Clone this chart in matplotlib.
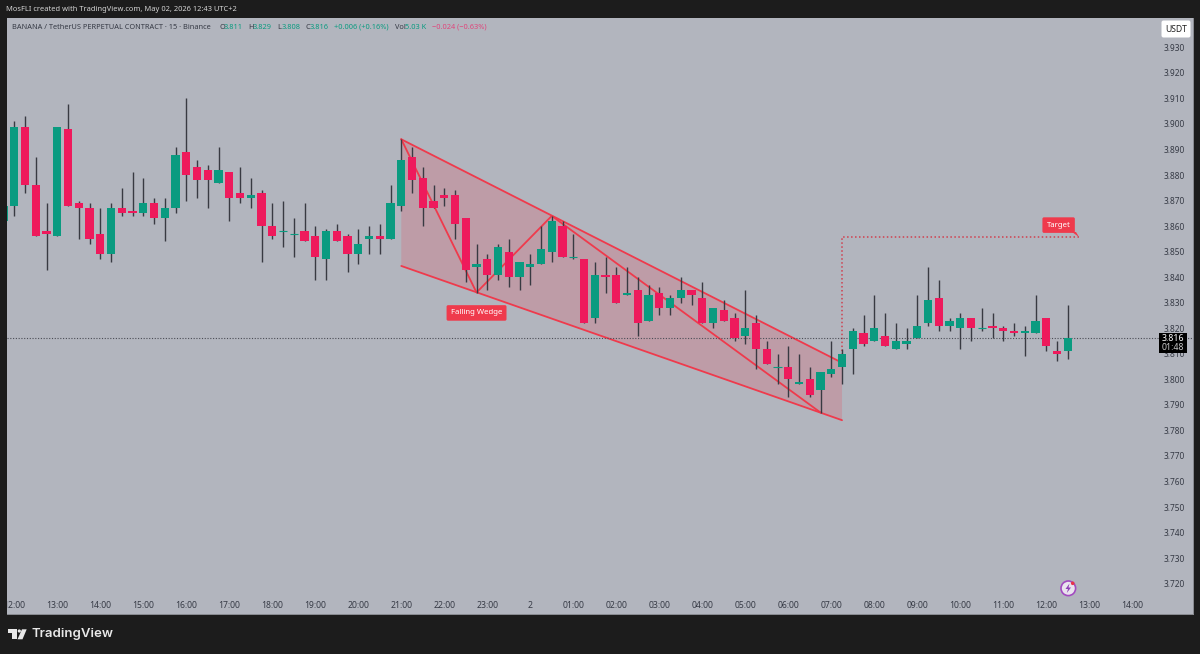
#!/usr/bin/env python
import numpy as np
from matplotlib import pyplot as plt
from matplotlib.patches import Circle, Polygon, Rectangle, FancyBboxPatch
from matplotlib.transforms import Affine2D

plt.rcParams['font.family'] = ['Noto Sans', 'DejaVu Sans']

### "data"
# 15 minute bars, first one is the bar just before 12:00
opens = [3.862, 3.868, 3.899, 3.876, 3.858, 3.856, 3.898, 3.869, 3.867, 3.857, 3.849,
         3.867, 3.866, 3.865, 3.869, 3.863, 3.867, 3.889, 3.883, 3.882, 3.877,
         3.881, 3.873, 3.871, 3.873, 3.860, 3.858, 3.857, 3.858, 3.856, 3.847,
         3.858, 3.856, 3.849, 3.855, 3.856, 3.855, 3.868, 3.887, 3.879, 3.870,
         3.872, 3.872, 3.863, 3.844, 3.847, 3.841, 3.850, 3.840, 3.844, 3.845,
         3.850, 3.860, 3.848, 3.847, 3.824, 3.841, 3.841, 3.833, 3.835, 3.823,
         3.834, 3.828, 3.832, 3.835, 3.832, 3.822, 3.827, 3.824, 3.817, 3.822,
         3.812, 3.805, 3.805, 3.798, 3.800, 3.796, 3.802, 3.805, 3.812, 3.818,
         3.815, 3.817, 3.812, 3.814, 3.816, 3.822, 3.832, 3.821, 3.820, 3.824,
         3.820, 3.821, 3.820, 3.819, 3.818, 3.818, 3.824, 3.811, 3.811]
highs = [3.868, 3.901, 3.903, 3.887, 3.869, 3.899, 3.908, 3.870, 3.869, 3.867, 3.869,
         3.875, 3.881, 3.879, 3.871, 3.871, 3.891, 3.910, 3.886, 3.884, 3.891,
         3.881, 3.883, 3.879, 3.874, 3.869, 3.870, 3.863, 3.869, 3.860, 3.859,
         3.861, 3.857, 3.859, 3.860, 3.861, 3.876, 3.894, 3.891, 3.883, 3.876,
         3.875, 3.874, 3.863, 3.853, 3.849, 3.853, 3.855, 3.846, 3.849, 3.860,
         3.864, 3.862, 3.857, 3.847, 3.846, 3.848, 3.844, 3.844, 3.840, 3.837,
         3.836, 3.833, 3.840, 3.835, 3.838, 3.828, 3.831, 3.826, 3.835, 3.825,
         3.815, 3.810, 3.813, 3.810, 3.805, 3.803, 3.815, 3.812, 3.820, 3.825,
         3.833, 3.826, 3.822, 3.820, 3.833, 3.844, 3.839, 3.824, 3.826, 3.824,
         3.828, 3.826, 3.821, 3.822, 3.821, 3.833, 3.824, 3.815, 3.829]
lows = [3.862, 3.864, 3.873, 3.856, 3.843, 3.856, 3.868, 3.855, 3.853, 3.847, 3.846,
        3.864, 3.864, 3.864, 3.861, 3.854, 3.865, 3.870, 3.871, 3.867, 3.877,
        3.862, 3.869, 3.867, 3.846, 3.855, 3.852, 3.848, 3.854, 3.839, 3.839,
        3.854, 3.842, 3.845, 3.849, 3.849, 3.855, 3.866, 3.873, 3.860, 3.867,
        3.868, 3.855, 3.838, 3.834, 3.835, 3.839, 3.836, 3.835, 3.837, 3.845,
        3.846, 3.848, 3.847, 3.822, 3.822, 3.834, 3.830, 3.833, 3.817, 3.823,
        3.825, 3.825, 3.830, 3.829, 3.822, 3.820, 3.823, 3.815, 3.814, 3.804,
        3.806, 3.798, 3.793, 3.798, 3.793, 3.787, 3.801, 3.798, 3.802, 3.813,
        3.815, 3.813, 3.812, 3.812, 3.816, 3.821, 3.819, 3.819, 3.812, 3.815,
        3.819, 3.816, 3.815, 3.817, 3.809, 3.818, 3.811, 3.807, 3.808]
closes = [3.868, 3.899, 3.876, 3.856, 3.857, 3.899, 3.868, 3.867, 3.855, 3.849, 3.867,
          3.865, 3.865, 3.869, 3.863, 3.867, 3.888, 3.880, 3.878, 3.878, 3.882,
          3.871, 3.871, 3.872, 3.860, 3.856, 3.858, 3.857, 3.854, 3.848, 3.858,
          3.854, 3.849, 3.853, 3.856, 3.855, 3.869, 3.886, 3.878, 3.867, 3.867,
          3.871, 3.861, 3.843, 3.845, 3.841, 3.852, 3.840, 3.846, 3.845, 3.851,
          3.862, 3.848, 3.848, 3.822, 3.841, 3.840, 3.830, 3.834, 3.822, 3.833,
          3.828, 3.832, 3.835, 3.833, 3.822, 3.828, 3.823, 3.816, 3.820, 3.812,
          3.806, 3.805, 3.800, 3.799, 3.794, 3.803, 3.804, 3.810, 3.819, 3.814,
          3.820, 3.813, 3.815, 3.815, 3.821, 3.831, 3.821, 3.823, 3.824, 3.820,
          3.820, 3.820, 3.819, 3.818, 3.819, 3.823, 3.813, 3.810, 3.816]

price_ticks = [3.72, 3.73, 3.74, 3.75, 3.76, 3.77, 3.78, 3.79, 3.80, 3.81, 3.82,
               3.83, 3.84, 3.85, 3.86, 3.87, 3.88, 3.89, 3.90, 3.91, 3.92, 3.93]
time_labels = ['12:00', '13:00', '14:00', '15:00', '16:00', '17:00', '18:00', '19:00',
               '20:00', '21:00', '22:00', '23:00', '2', '01:00', '02:00', '03:00',
               '04:00', '05:00', '06:00', '07:00', '08:00', '09:00', '10:00', '11:00',
               '12:00', '13:00', '14:00']
last_price = 3.816

# drawings: (bar, price)
wedge_upper = [(36, 3.894), (77, 3.8065)]
wedge_lower = [(36, 3.8444), (77, 3.784)]
zigzag_bars = [36, 43, 50, 75]
zigzag_prices = [3.894, 3.834, 3.864, 3.787]
target_bars = [77, 77, 99]
target_prices = [3.8065, 3.8558, 3.8558]

### "style"
PANE = '#b2b5be'
DARK = '#1c1c1c'
GREEN = '#0a9b80'
RED = '#ee1a5c'
WICK = '#383a42'
DRAW = '#ef3a4c'
TEXT = '#363a45'

figure = plt.figure(figsize=(12.0, 6.54), dpi=100, facecolor=DARK)
# pane goes from x 6.7 to 1193 and y 17.5 to 614 in picture pixels
ax = figure.add_axes([6.7 / 1200, 1 - 614 / 654, (1193 - 6.7) / 1200, (614 - 17.5) / 654])
ax.set_facecolor(PANE)
ax.set_xlim(-0.707, 109.65)
ax.set_ylim(3.7081, 3.9417)
for spine in ax.spines.values():
    spine.set_color('#8c8e94')
    spine.set_linewidth(0.7)
ax.spines['top'].set_visible(False)
ax.spines['left'].set_visible(False)

# picture pixels, for the bits that are not on the price scale
pix = Affine2D().scale(1, -1).translate(0, 654)

### "candles"
bars = np.arange(len(opens)) - 1
o, h, l, c = map(np.array, (opens, highs, lows, closes))
up = c >= o
colors = np.where(up, GREEN, RED)
flat = o == c

# wedge goes under the candles
ax.add_patch(Polygon(wedge_upper + wedge_lower[::-1], closed=True, facecolor=DRAW,
                     alpha=0.2, edgecolor='none', zorder=1))
for line in (wedge_upper, wedge_lower):
    ax.plot(*zip(*line), color=DRAW, lw=1.3, zorder=2, solid_capstyle='round')
ax.plot(zigzag_bars, zigzag_prices, color=DRAW, lw=1.3, zorder=2)
ax.plot(target_bars, target_prices, color='#d0404f', lw=1.1, ls=(0, (1, 1.6)), zorder=2)

ax.axhline(last_price, color='#4a4c55', lw=0.8, ls=(0, (1, 1.5)), zorder=2)

ax.vlines(bars, l, h, color=WICK, lw=1.0, zorder=3)
ax.bar(bars, np.abs(c - o), bottom=np.minimum(o, c), width=0.78, color=colors,
       linewidth=0, zorder=4)
ax.hlines(o[flat], bars[flat] - 0.39, bars[flat] + 0.39, color=GREEN, lw=0.8, zorder=4)

### "axes"
ax.set_xticks(np.arange(len(time_labels)) * 4)
ax.set_xticklabels(time_labels)
ax.set_yticks(price_ticks)
ax.set_yticklabels(['%.3f' % p for p in price_ticks])
ax.yaxis.tick_right()
ax.tick_params(axis='x', length=0, pad=-9.6, labelsize=6.2, labelcolor=TEXT)
ax.tick_params(axis='y', length=0, pad=-21, labelsize=6.0, labelcolor=TEXT)
for label in ax.get_xticklabels():
    label.set_clip_box(ax.bbox)
    label.set_clip_on(True)
    if label.get_text() == '2':
        label.set_fontweight('bold')

### "labels"
ax.text(43, 3.826, 'Falling Wedge', color='white', fontsize=5.6, fontweight='bold',
        ha='center', va='center', zorder=6,
        bbox=dict(boxstyle='round,pad=0.55,rounding_size=0.2', fc=DRAW, ec='none'))
ax.text(97.15, 3.8604, 'Target', color='white', fontsize=5.6, fontweight='bold',
        ha='center', va='center', zorder=6,
        bbox=dict(boxstyle='round,pad=0.55,rounding_size=0.2', fc=DRAW, ec='none'))
figure.add_artist(Polygon([(1072, 232), (1076, 232), (1079, 237)], closed=True,
                          facecolor=DRAW, edgecolor='none', transform=pix, zorder=6))

# legend line on top of the pane
figure.text(6.5, 9.5, 'MosFLI created with TradingView.com, May 02, 2026 12:43 UTC+2',
            color='#d4d4d4', fontsize=5.4, va='center', transform=pix)
legend = [(11.7, 'BANANA / TetherUS PERPETUAL CONTRACT · 15 · Binance', TEXT),
          (219, 'O', TEXT), (224, '3.811', GREEN), (248, 'H', TEXT), (253, '3.829', GREEN),
          (277, 'L', TEXT), (282, '3.808', GREEN), (305, 'C', TEXT), (310, '3.816', GREEN),
          (334, '+0.006 (+0.16%)', GREEN), (395, 'Vol', TEXT), (405, '5.03 K', GREEN),
          (432, '\u22120.024 (\u22120.63%)', '#e0457b')]
for x, text, color in legend:
    figure.text(x, 27.3, text, color=color, fontsize=5.3, va='center', transform=pix, zorder=6)

# USDT button
figure.add_artist(FancyBboxPatch((1162, 21), 28, 16, boxstyle='round,pad=0.5,rounding_size=2',
                                 facecolor='white', edgecolor='none', transform=pix, zorder=6))
figure.text(1176, 29, 'USDT', color='#222222', fontsize=6.2, ha='center', va='center',
            transform=pix, zorder=7)

# last price tag
figure.add_artist(Rectangle((1159, 333.3), 28, 20, facecolor='black', edgecolor='none',
                            transform=pix, zorder=6))
figure.text(1173, 338.6, '3.816', color='white', fontsize=6.3, fontweight='bold', ha='center',
            va='center', transform=pix, zorder=7)
figure.text(1173, 348, '01:48', color='#c8c8c8', fontsize=6.3, ha='center', va='center',
            transform=pix, zorder=7)

# small flash icon at the bottom
figure.add_artist(Circle((1068.3, 588.3), 7.3, facecolor='#e9e3ee', edgecolor='#a24bc0', lw=1.2,
                         transform=pix, zorder=6))
figure.add_artist(Polygon([(1069.5, 583.5), (1065.5, 589), (1068, 589), (1066.8, 593),
                           (1071, 587.5), (1068.5, 587.5)], closed=True, facecolor='#8e3fb5',
                          edgecolor='none', transform=pix, zorder=7))
figure.add_artist(Circle((1072.7, 583.3), 1.8, facecolor='#e8334a', edgecolor='none',
                         transform=pix, zorder=8))

# TradingView mark
logo = [[(8, 629.3), (16.7, 629.3), (16.7, 639.3), (12, 639.3), (12, 632.5), (8, 632.5)],
        [(22, 629.3), (26.7, 629.3), (22.5, 639.3), (17.5, 639.3)]]
for shape in logo:
    figure.add_artist(Polygon(shape, closed=True, facecolor='#e8e8e8', edgecolor='none',
                              transform=pix))
figure.add_artist(Circle((19.3, 631), 1.6, facecolor='#e8e8e8', edgecolor='none', transform=pix))
figure.text(32, 634.5, 'TradingView', color='#e8e8e8', fontsize=9.5, fontweight='semibold',
            family=['Inter', 'DejaVu Sans'], va='center', transform=pix)

figure.savefig('out.png', dpi=100, facecolor=DARK)
